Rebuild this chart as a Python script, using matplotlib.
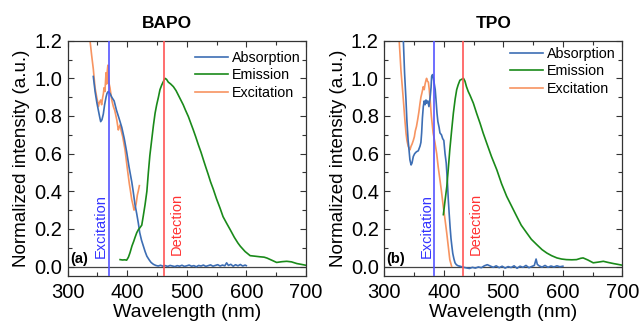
import matplotlib
matplotlib.use("Agg")
import matplotlib.pyplot as plt
from matplotlib.ticker import MultipleLocator

plt.rcParams['font.family'] = ['Liberation Sans', 'DejaVu Sans']

# ---------------- BAPO data ----------------
bapo_abs_x = [343, 346, 349, 351.5, 354, 355.4, 357.5, 359.8, 362, 364.4, 366, 368, 371, 374, 378, 382, 386,
              390.8, 395, 399, 403, 407.6, 410, 413, 416, 418.7, 421, 424, 427, 430, 433, 437, 440, 444, 448,
              452, 456, 460, 464, 468, 472, 476, 480, 484, 488, 492, 496, 500, 504, 508, 512, 516, 520, 524,
              528, 532, 536, 540, 544, 548, 552, 556, 560, 564, 567, 570, 574, 578, 582, 586, 590, 594, 598, 600]
bapo_abs_y = [1.01, 0.93, 0.87, 0.83, 0.79, 0.77, 0.78, 0.81, 0.86, 0.90, 0.92, 0.93, 0.92, 0.90, 0.88, 0.83, 0.79,
              0.74, 0.68, 0.61, 0.53, 0.45, 0.40, 0.33, 0.28, 0.23, 0.18, 0.14, 0.11, 0.08, 0.055, 0.035, 0.022,
              0.012, 0.006, 0.003, 0.007, 0.002, 0.005, 0.001, 0.006, 0.003, 0.000, 0.005, 0.002, 0.007, 0.001,
              0.004, 0.008, 0.002, 0.005, -0.001, 0.006, 0.003, 0.008, 0.001, 0.005, 0.009, 0.002, 0.006, 0.010,
              0.003, 0.008, 0.004, 0.020, 0.006, 0.012, 0.002, 0.010, 0.004, 0.011, 0.003, 0.008, 0.005]

bapo_exc_x = [337.5, 340.3, 343, 345.9, 348.7, 350, 351.5, 353, 355.4, 357, 358.8, 360, 361, 362.5, 364.4, 365.5,
              366.5, 367.5, 369, 371, 374, 376.7, 379, 382.4, 385, 386.5, 388, 390, 392.4, 396.3, 399, 401,
              403.5, 405.5, 407.6, 409.5, 411.4, 413, 414.8, 417, 418.5, 420.4]
bapo_exc_y = [1.20, 1.12, 1.05, 0.95, 0.90, 0.88, 0.85, 0.87, 0.885, 0.86, 0.90, 0.92, 0.95, 0.93, 1.03, 0.97,
              1.04, 1.07, 0.98, 0.95, 0.885, 0.85, 0.83, 0.78, 0.726, 0.74, 0.753, 0.72, 0.69, 0.62, 0.55, 0.50,
              0.44, 0.40, 0.355, 0.33, 0.30, 0.31, 0.33, 0.38, 0.40, 0.43]

bapo_em_x = [388, 392, 396, 399, 402, 404.7, 408, 411, 413, 416, 418.7, 421, 424.4, 427, 430, 433, 435.5, 438,
             441, 444, 446.8, 449.5, 452.4, 455, 458, 461, 463.5, 466, 469, 473, 477.5, 482, 486, 490, 494,
             498, 502.7, 507, 511, 515, 519.5, 524, 528, 532, 536, 540, 544.7, 550, 556, 561, 567, 573, 580,
             586, 590, 598, 606.5, 615, 623, 630, 635, 642, 651, 660, 668, 676, 685, 692, 700]
bapo_em_y = [0.037, 0.035, 0.036, 0.034, 0.05, 0.074, 0.11, 0.135, 0.154, 0.18, 0.196, 0.205, 0.22, 0.27, 0.33,
             0.40, 0.50, 0.59, 0.67, 0.75, 0.815, 0.86, 0.90, 0.94, 0.965, 0.985, 1.0, 0.995, 0.98, 0.97, 0.956,
             0.935, 0.91, 0.885, 0.86, 0.83, 0.797, 0.76, 0.726, 0.69, 0.647, 0.607, 0.567, 0.528, 0.49, 0.45,
             0.41, 0.36, 0.31, 0.265, 0.23, 0.196, 0.155, 0.125, 0.108, 0.08, 0.058, 0.055, 0.052, 0.050, 0.045,
             0.035, 0.022, 0.026, 0.028, 0.025, 0.016, 0.012, 0.007]

# ---------------- TPO data ----------------
tpo_abs_x = [332, 334, 336.4, 338, 340, 341.5, 343, 345, 346.5, 348.7, 351, 354, 357, 360, 361.5, 362.7, 364,
             365.5, 367, 368.5, 370, 371, 373, 375, 377, 378.5, 379.5, 381, 382.5, 384, 385.5, 387, 388.5,
             390, 392, 393.5, 396, 398, 400, 402, 404, 406, 407.5, 409, 410.5, 412, 413.5, 415, 417, 418.8,
             421, 424, 427, 432, 438, 443, 448, 453, 458, 463, 468, 473, 478, 483, 488, 493, 498, 503, 508,
             513, 518, 523, 528, 533, 538, 543, 548, 552, 555, 557, 560, 565, 570, 575, 580, 585, 590, 595, 600]
tpo_abs_y = [1.20, 1.03, 0.885, 0.77, 0.67, 0.62, 0.567, 0.54, 0.55, 0.585, 0.60, 0.61, 0.615, 0.64, 0.66, 0.71,
             0.79, 0.85, 0.88, 0.86, 0.885, 0.868, 0.88, 0.85, 0.90, 0.95, 1.01, 1.02, 1.0, 0.97, 0.94, 0.88,
             0.815, 0.77, 0.74, 0.71, 0.70, 0.68, 0.67, 0.60, 0.55, 0.45, 0.355, 0.28, 0.21, 0.15, 0.108, 0.07,
             0.04, 0.02, 0.01, 0.004, 0.002, -0.003, -0.007, -0.010, -0.004, -0.008, -0.002, -0.006, 0.004,
             0.010, 0.003, -0.004, 0.004, -0.006, 0.002, -0.008, 0.000, -0.005, 0.004, -0.009, 0.002, -0.004,
             0.006, -0.006, 0.001, 0.006, 0.040, 0.012, 0.004, -0.003, 0.006, -0.004, 0.003, -0.002, 0.004,
             -0.001, 0.002]

tpo_exc_x = [325, 328, 332, 334, 336.4, 338, 340, 341.5, 343, 345, 346.5, 348.7, 350.5, 352, 354, 356, 358,
             360, 361.5, 363, 365.5, 367, 368.5, 370, 371, 372.5, 374, 375.5, 377, 379, 382, 385, 388, 390.5,
             393.5, 396, 399, 402, 404.8, 407, 410, 413]
tpo_exc_y = [1.20, 1.04, 0.885, 0.80, 0.71, 0.67, 0.64, 0.63, 0.62, 0.64, 0.65, 0.67, 0.69, 0.72, 0.744, 0.78,
             0.82, 0.868, 0.90, 0.92, 0.956, 0.94, 0.97, 0.99, 1.0, 0.985, 0.98, 0.94, 0.885, 0.80, 0.71, 0.66,
             0.60, 0.53, 0.46, 0.40, 0.32, 0.25, 0.18, 0.12, 0.037, 0.002]

tpo_em_x = [399.2, 402, 405, 407.5, 410, 413, 416, 419, 421.6, 424, 427, 430, 433, 435.5, 438, 441, 444, 449.6,
            455, 461, 466, 472, 480, 489, 497, 505.6, 514, 522.4, 530, 539, 547, 556, 565, 573, 581, 590, 598,
            606, 615, 623, 630, 634, 642, 651, 660, 668, 676, 685, 692, 700]
tpo_em_y = [0.276, 0.35, 0.426, 0.52, 0.62, 0.72, 0.815, 0.89, 0.94, 0.965, 0.99, 0.995, 1.0, 0.985, 0.956,
            0.93, 0.91, 0.868, 0.815, 0.76, 0.71, 0.656, 0.585, 0.514, 0.44, 0.373, 0.32, 0.267, 0.22, 0.18,
            0.145, 0.117, 0.09, 0.072, 0.058, 0.046, 0.040, 0.037, 0.036, 0.037, 0.044, 0.046, 0.035, 0.020,
            0.024, 0.028, 0.022, 0.016, 0.012, 0.007]

panels = [
    dict(title='BAPO', tag='(a)', exc_nm=369, det_nm=462.5, title_x=0.417,
         abs=(bapo_abs_x, bapo_abs_y), em=(bapo_em_x, bapo_em_y), exc=(bapo_exc_x, bapo_exc_y),
         leg_x=0.535, leg_y=0.958),
    dict(title='TPO', tag='(b)', exc_nm=384, det_nm=432.8, title_x=0.461,
         abs=(tpo_abs_x, tpo_abs_y), em=(tpo_em_x, tpo_em_y), exc=(tpo_exc_x, tpo_exc_y),
         leg_x=0.528, leg_y=0.975),
]

C_ABS = '#3d6eb4'
C_EM = '#1a8a1a'
C_EXC = '#f79461'

fig = plt.figure(figsize=(6.4, 3.27), dpi=100)
lefts = [0.1058, 0.6005]
for left, p in zip(lefts, panels):
    ax = fig.add_axes([left, 0.156, 0.372, 0.7195])
    ax.axhline(0, color='#444444', lw=0.9, zorder=1)
    ax.axvline(p['exc_nm'], color='#5555ff', lw=1.2, zorder=4)
    ax.axvline(p['det_nm'], color='#ff5555', lw=1.2, zorder=4)
    ax.plot(*p['abs'], color=C_ABS, lw=1.2, label='Absorption', zorder=3)
    ax.plot(*p['em'], color=C_EM, lw=1.2, label='Emission', zorder=3)
    ax.plot(*p['exc'], color=C_EXC, lw=1.2, label='Excitation', zorder=2)
    ax.set_xlim(300, 700)
    ax.set_ylim(-0.05, 1.2)
    ax.xaxis.set_major_locator(MultipleLocator(100))
    ax.xaxis.set_minor_locator(MultipleLocator(50))
    ax.yaxis.set_minor_locator(MultipleLocator(0.1))
    ax.set_yticks([0, 0.2, 0.4, 0.6, 0.8, 1.0, 1.2])
    ax.set_yticklabels(['0.0', '0.2', '0.4', '0.6', '0.8', '1.0', '1.2'])
    ax.tick_params(which='both', direction='in', top=True, right=True, labelsize=14.5,
                   color='#333333')
    ax.tick_params(axis='x', pad=5)
    ax.tick_params(axis='y', pad=4)
    ax.tick_params(which='major', length=4, width=0.8)
    ax.tick_params(which='minor', length=3, width=0.8)
    for s in ax.spines.values():
        s.set_color('#333333')
        s.set_linewidth(0.9)
    ax.set_xlabel('Wavelength (nm)', fontsize=14, labelpad=1.5)
    ax.set_ylabel('Normalized intensity (a.u.)', fontsize=13.5, labelpad=3)
    ax.set_title(p['title'], fontsize=12.5, fontweight='bold', pad=9, x=p['title_x'])
    ax.text(304, 0.04, p['tag'], fontsize=10.5, fontweight='bold', ha='left', va='center')
    ax.text(p['exc_nm'] - 1.5, 0.045, 'Excitation', color='#3333ff', fontsize=10.5,
            rotation=90, ha='right', va='bottom')
    ax.text(p['det_nm'] + 9, 0.06, 'Detection', color='#ff3333', fontsize=10.5,
            rotation=90, ha='left', va='bottom')
    ax.legend(loc='upper left', bbox_to_anchor=(p['leg_x'], p['leg_y']), frameon=False,
              fontsize=10.3, handlelength=2.3, handletextpad=0.25, labelspacing=0.25,
              borderpad=0, borderaxespad=0)

fig.savefig('out.png', dpi=100)
